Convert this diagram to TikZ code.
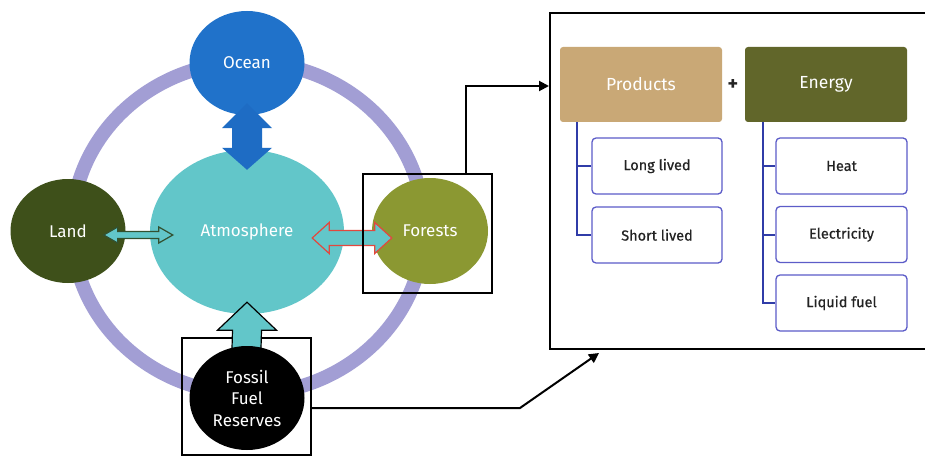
\documentclass[tikz,border=0pt]{standalone}
\usepackage{fontspec}
\setmainfont{Fira Sans}
\newfontfamily\medfont{Fira Sans}[FakeBold=0.6]
\usetikzlibrary{shapes.geometric,calc,arrows.meta}
\definecolor{ringc}{RGB}{162,158,212}
\definecolor{oceanc}{RGB}{32,114,202}
\definecolor{atmoc}{RGB}{98,198,201}
\definecolor{landc}{RGB}{62,80,26}
\definecolor{forestc}{RGB}{139,152,50}
\definecolor{prodc}{RGB}{201,168,118}
\definecolor{energyc}{RGB}{97,102,42}
\definecolor{treec}{RGB}{48,60,168}
\definecolor{subc}{RGB}{92,92,200}
\definecolor{arrowblue}{RGB}{30,108,196}
\definecolor{redc}{RGB}{226,72,62}
\definecolor{darkgreenc}{RGB}{50,80,48}
\definecolor{txtc}{RGB}{35,35,35}
\begin{document}
\begin{tikzpicture}[x=1pt,y=-1pt,
  blob/.style={ellipse, inner sep=0pt, minimum width=115pt, minimum height=104pt,
    text=white, font=\fontsize{17}{21.5}\selectfont, align=center},
  frame/.style={draw=black, line width=1.2pt, inner sep=0pt},
  topbox/.style={rounded corners=3pt, minimum width=162pt, minimum height=75pt,
    inner sep=0pt, text=white, font=\fontsize{17.5}{20}\selectfont},
  subbox/.style={draw=subc, line width=1.3pt, rounded corners=4pt, fill=white,
    minimum width=130pt, minimum height=56pt, inner sep=0pt,
    font=\medfont\fontsize{14.5}{16}\selectfont, text=txtc},
  tree/.style={draw=treec, line width=2pt},
  link/.style={draw=black, line width=2pt, -{Triangle[length=10pt,width=10pt]}},
  blockarrow/.style={line width=1.2pt, line join=miter}
]
\useasboundingbox (0,0) rectangle (925,457);
\clip (0,0) rectangle (925,457);
\fill[white] (0,0) rectangle (925,457);

% cycle ring
\draw[ringc, line width=14pt] (248,228) ellipse [x radius=176pt, y radius=166pt];

% circles
\node[blob, fill=oceanc] (ocean) at (247,63) {Ocean};
\node[blob, fill=landc] (land) at (68,231) {Land};
\node[blob, fill=forestc, minimum width=116pt, minimum height=106pt] (forests) at (430,231) {Forests};
\node[ellipse, inner sep=0pt, fill=atmoc, minimum width=194pt, minimum height=164pt,
      text=white, font=\fontsize{17}{20}\selectfont] (atmo) at (247,232) {Atmosphere};

% frame around fossil fuel reserves
\node[frame, minimum width=129pt, minimum height=117pt] (fossilframe) at (246.5,396.5) {};

% block arrows
\coordinate (oa1) at ($(ocean.south)+(0,-12)$);
\coordinate (oa2) at ($(atmo.north)+(0,20)$);
\fill[arrowblue] (oa1) -- ++(25,25) -- ++(-10,0) -- ($(oa2)+(15,-22)$) -- ++(10,0) -- (oa2)
  -- ++(-25,-22) -- ++(10,0) -- ($(oa1)+(-15,25)$) -- ++(-10,0) -- cycle;

\coordinate (la1) at ($(land.east)+(-22,4)$);
\coordinate (la2) at ($(atmo.west)+(23,3)$);
\filldraw[blockarrow, fill=atmoc, draw=darkgreenc] (la1) -- ++(14,-8) -- ++(0,4.5)
  -- ($(la2)+(-14,-3.5)$) -- ++(0,-4.5) -- (la2) -- ++(-14,8) -- ++(0,-4.5)
  -- ($(la1)+(14,3.5)$) -- ++(0,4.5) -- cycle;

\coordinate (fa1) at ($(atmo.east)+(-32,6)$);
\coordinate (fa2) at ($(forests.west)+(20,7)$);
\filldraw[blockarrow, fill=atmoc, draw=redc] (fa1) -- ++(17,-15.5) -- ++(0,8)
  -- ($(fa2)+(-17,-7.5)$) -- ++(0,-8) -- (fa2) -- ++(-17,15.5) -- ++(0,-8)
  -- ($(fa1)+(17,7.5)$) -- ++(0,8) -- cycle;

\coordinate (fua) at ($(atmo.south)+(0,-12)$);
\coordinate (fub) at ($(fossilframe.north)+(0,11)$);
\filldraw[blockarrow, fill=atmoc, draw=black] (fua) -- ++(29.5,28) -- ++(-15,0)
  -- ($(fub)+(14.5,0)$) -- ++(-29,0) -- ($(fua)+(-14.5,28)$) -- ++(-15,0) -- cycle;
\node[blob, fill=black] (fossil) at (247,398) {Fossil\\Fuel\\Reserves};

% frame around forests
\node[frame, minimum width=129pt, minimum height=119pt] (forestframe) at (427.5,233.5) {};

% right panel
\node[draw=black, line width=2pt, minimum width=385pt, minimum height=336pt, inner sep=0pt]
  (bigbox) at (742.5,181) {};
\node[topbox, fill=prodc] (prod) at (641,84.5) {Products};
\node[topbox, fill=energyc] (energy) at (826,84.5) {Energy};
\node[font=\fontsize{20}{22}\selectfont\bfseries, text=txtc] (plus) at (733,85) {+};

\node[subbox] (long) at (657,166) {Long lived};
\node[subbox] (short) at (657,235) {Short lived};
\node[subbox, minimum width=131pt] (heat) at (841.5,166) {Heat};
\node[subbox, minimum width=131pt] (elec) at (841.5,234.5) {Electricity};
\node[subbox, minimum width=131pt] (liquid) at (841.5,303) {Liquid fuel};

\coordinate (pt) at ($(prod.south west)+(17,0)$);
\draw[tree] (pt) |- (short.west);
\draw[tree] (pt) |- (long.west);
\coordinate (et) at ($(energy.south west)+(18,0)$);
\draw[tree] (et) |- (liquid.west);
\draw[tree] (et) |- (heat.west);
\draw[tree] (et) |- (elec.west);

% connectors
\draw[link] ($(forestframe.north east)+(-27,0)$) |- (bigbox.west |- 0,86);
\coordinate (bend) at (520,408);
\draw[link] ($(fossilframe.east)+(0,11.5)$) -- (bend) -- ($(bigbox.south west)+(50,3)$);
\end{tikzpicture}
\end{document}
